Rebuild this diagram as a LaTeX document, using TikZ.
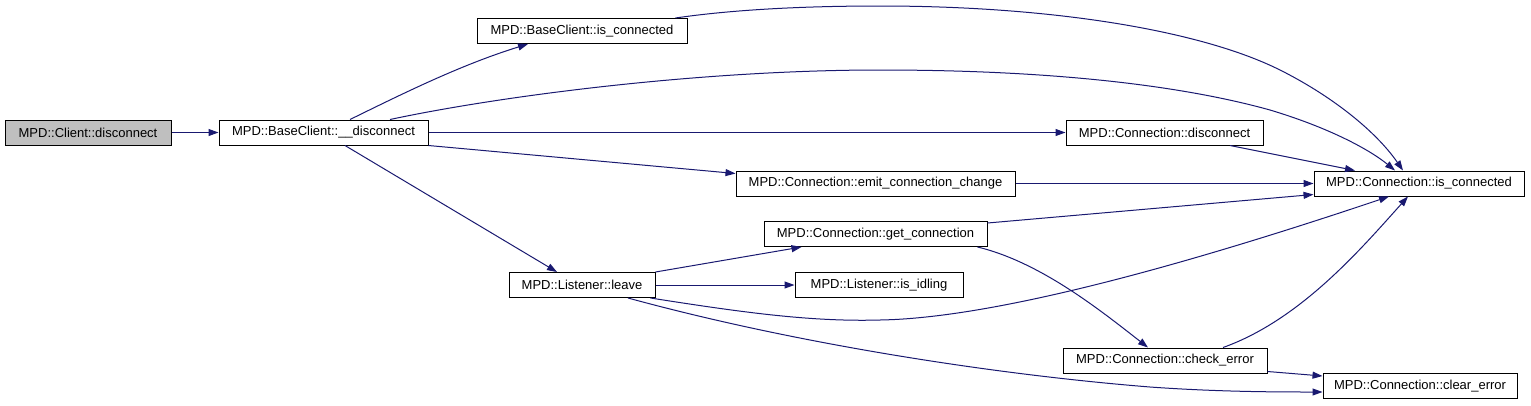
\documentclass[tikz,border=0pt]{standalone}
\usepackage{fontspec}
\setmainfont{Liberation Sans}
\usetikzlibrary{arrows.meta,calc}
\definecolor{edgeblue}{HTML}{191970}
\definecolor{boxgray}{HTML}{BFBFBF}
\begin{document}
\begin{tikzpicture}[x=1pt,y=-1pt,
  fn/.style={draw=black,line width=1pt,fill=white,inner sep=0pt,minimum height=25pt,
    font=\fontsize{13}{15}\selectfont,text=black,anchor=center},
  call/.style={draw=edgeblue,line width=1pt,-{Triangle[length=10pt,width=7pt]}}]
\useasboundingbox (0,0) rectangle (1531,405);
\node[fn,fill=boxgray,minimum width=166pt] (cd) at (88,132.5) {MPD::Client::disconnect};
\node[fn,minimum width=209pt] (bd) at (323.5,132.5) {MPD::BaseClient::\_\_disconnect};
\node[fn,minimum width=210pt] (bic) at (582,31) {MPD::BaseClient::is\_connected};
\node[fn,minimum width=197pt] (cdisc) at (1164.5,132.5) {MPD::Connection::disconnect};
\node[fn,minimum width=279pt] (emit) at (875.5,183.5) {MPD::Connection::emit\_connection\_change};
\node[fn,minimum width=210pt] (cic) at (1419,183.5) {MPD::Connection::is\_connected};
\node[fn,minimum width=223pt] (gc) at (875.5,234) {MPD::Connection::get\_connection};
\node[fn,minimum width=146pt] (leave) at (582,285) {MPD::Listener::leave};
\node[fn,minimum width=168pt] (idle) at (879,285) {MPD::Listener::is\_idling};
\node[fn,minimum width=204pt] (chk) at (1165,360.5) {MPD::Connection::check\_error};
\node[fn,minimum width=194pt] (clr) at (1420,386) {MPD::Connection::clear\_error};

\draw[call] (cd.east) -- (bd.west);
\draw[call] ($(bd.north)+(26.5,0)$) .. controls (400,95) and (460,65) .. ($(bic.south)+(-54,0)$);
\draw[call] ($(bd.north)+(66.5,0)$) .. controls (500,96) and (700,70) .. (880,70)
  .. controls (1050,70) and (1180,85) .. (1270,110)
  .. controls (1330,128) and (1370,150) .. ($(cic.north)+(-24,0)$);
\draw[call] ($(bic.north east)+(-12,0)$) .. controls (730,10) and (800,6) .. (880,6)
  .. controls (1050,6) and (1200,30) .. (1280,70)
  .. controls (1330,95) and (1375,130) .. ($(cic.north)+(-16,0)$);
\draw[call] (bd.east) -- (cdisc.west);
\draw[call] (bd.south east) -- ($(emit.north west)+(0,3)$);
\draw[call] ($(bd.south)+(21.5,0)$) -- ($(leave.north)+(-25,0)$);
\draw[call] ($(cdisc.south)+(65.5,0)$) -- ($(cic.north)+(-64,0)$);
\draw[call] (emit.east) -- (cic.west);
\draw[call] ($(gc.east)+(0,-11)$) -- ($(cic.south west)+(0,-2)$);
\draw[call] (leave.north east) -- ($(gc.south west)+(38,0)$);
\draw[call] (leave.east) -- (idle.west);
\draw[call] ($(leave.south east)+(-5,0)$) .. controls (740,312) and (810,322) .. (880,320)
  .. controls (1000,318) and (1200,260) .. ($(cic.south)+(-30,0)$);
\draw[call] ($(leave.south)+(46,0)$) .. controls (800,345) and (1000,375) .. (1150,387)
  .. controls (1220,392) and (1280,392) .. ($(clr.west)+(0,6)$);
\draw[call] ($(gc.south east)+(-10,0)$) .. controls (1040,262) and (1100,310) .. ($(chk.north)+(-17,0)$);
\draw[call] ($(chk.north)+(58,0)$) .. controls (1300,320) and (1360,250) .. ($(cic.south)+(-11,0)$);
\draw[call] ($(chk.east)+(0,11)$) -- ($(clr.west)+(0,-10)$);
\end{tikzpicture}
\end{document}
